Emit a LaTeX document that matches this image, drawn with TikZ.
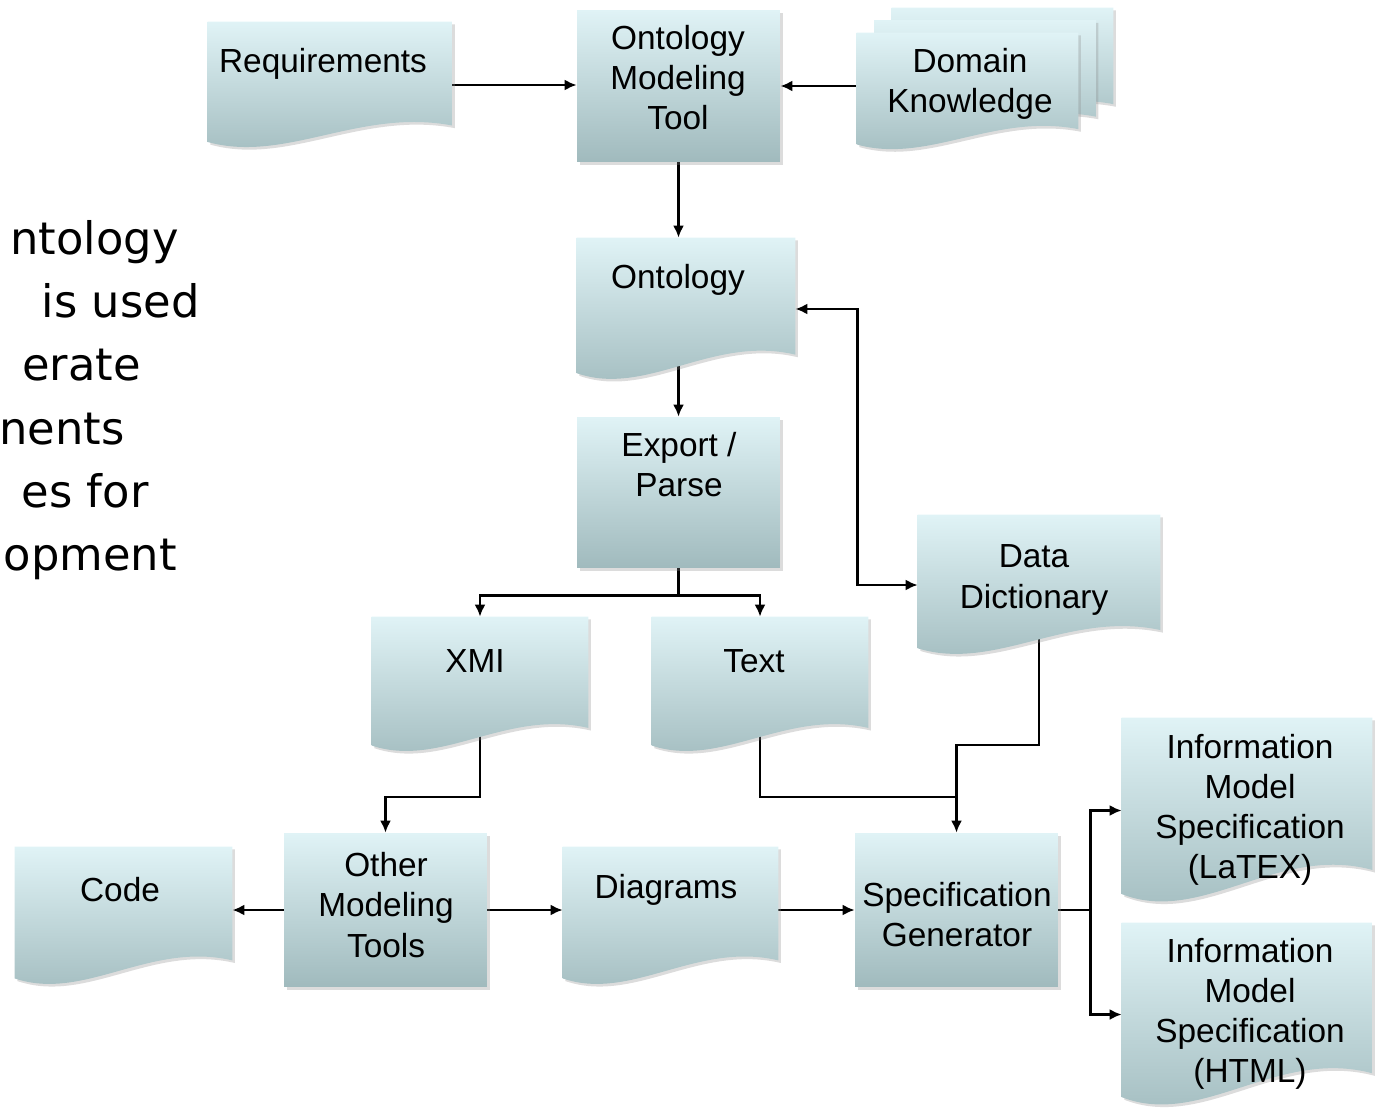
\documentclass[tikz,border=0pt]{standalone}
\usepackage{fontspec}
\setmainfont{Liberation Sans}
\newfontfamily\slidefont{DejaVu Sans}
\usetikzlibrary{calc,shadows,arrows.meta,backgrounds}

\definecolor{boxtop}{RGB}{224,243,246}
\definecolor{boxbottom}{RGB}{160,186,189}

\newcommand{\boxfont}{\fontsize{19}{22.8}\selectfont}

\tikzset{
  shade box/.style={top color=boxtop, bottom color=boxbottom,
    drop shadow={shadow xshift=1.5pt, shadow yshift=-1.5pt, fill=black!45, opacity=0.3}},
  procbox/.style={shade box, rectangle, inner sep=0pt, align=center, font=\boxfont},
  docarea/.style={rectangle, inner sep=0pt},
  boxtext/.style={align=center, font=\boxfont, inner sep=0pt},
  flow/.style={line width=1.4pt, ->},
  plainflow/.style={line width=1.4pt},
}

% Dokumentsymbol mit welliger Unterkante auf dem Rechteck eines Knotens
\newcommand{\docshape}[1]{%
  \path[shade box] let \p1=(#1.north west), \p2=(#1.south east),
      \n1={\x2-\x1}, \n2={\y1-\y2} in
    (\x1,\y1) -- (\x2,\y1) -- (\x2,\y2+0.18*\n2)
    .. controls (\x1+0.62*\n1,\y2+0.32*\n2) and (\x1+0.32*\n1,\y2-0.12*\n2)
    .. (\x1,\y2+0.05*\n2) -- cycle;}

\begin{document}
\begin{tikzpicture}[x=0.02cm, y=-0.02cm, >={Latex[length=2.4mm,width=2.2mm]}]
\useasboundingbox (0,0) rectangle (1375,1108);
\clip (0,0) rectangle (1375,1108);

% abgeschnittener Folientext am linken Rand
\begin{scope}[font=\slidefont\fontsize{25.5}{31}\selectfont, inner sep=0pt, anchor=base east]
\node (line1) at (179,255) {ntology};
\node (line2) at (200,317) {is used};
\node (line3) at (141,380) {erate};
\node (line4) at (125,444) {nents};
\node (line5) at (149,507) {es for};
\node (line6) at (177,570) {opment};
\end{scope}

% obere Reihe
\node[docarea, minimum width=4.88cm, minimum height=2.52cm] (req) at (330,85) {};
\docshape{req}
\node[boxtext] (req text) at (323,64) {Requirements};

\node[procbox, minimum width=4.06cm, minimum height=3.04cm] (omt) at (678.5,86) {};
\node[boxtext] (omt text) at (678,78) {Ontology\\Modeling\\Tool};

\node[docarea, minimum width=4.42cm, minimum height=2.34cm] (dom back) at (1002.5,66.5) {};
\node[docarea, minimum width=4.42cm, minimum height=2.34cm] (dom mid) at (985,79) {};
\node[docarea, minimum width=4.42cm, minimum height=2.34cm] (dom) at (967.5,91.5) {};
\docshape{dom back}
\docshape{dom mid}
\docshape{dom}
\node[boxtext] (dom text) at (970,84) {Domain\\Knowledge};

% mittlere Spalte
\node[docarea, minimum width=4.36cm, minimum height=2.84cm] (onto) at (686,309) {};
\docshape{onto}
\node[boxtext] (onto text) at (678,280) {Ontology};

\node[procbox, minimum width=4.06cm, minimum height=3.02cm] (exp) at (678.5,492.5) {};
\node[boxtext] (exp text) at (679,465) {Export /\\Parse};

\node[docarea, minimum width=4.84cm, minimum height=2.80cm] (dd) at (1039,585) {};
\docshape{dd}
\node[boxtext] (dd text) at (1034,580) {Data\\Dictionary};

\node[docarea, minimum width=4.32cm, minimum height=2.70cm] (xmi) at (480,684.5) {};
\docshape{xmi}
\node[boxtext] (xmi text) at (475,661) {XMI};

\node[docarea, minimum width=4.32cm, minimum height=2.70cm] (txt) at (760,684.5) {};
\docshape{txt}
\node[boxtext] (txt text) at (754,661) {Text};

% untere Reihe
\node[docarea, minimum width=4.34cm, minimum height=2.76cm] (code) at (123.5,916) {};
\docshape{code}
\node[boxtext] (code text) at (120,890) {Code};

\node[procbox, minimum width=4.06cm, minimum height=3.08cm] (oth) at (385.5,910) {};
\node[boxtext] (oth text) at (386,905) {Other\\Modeling\\Tools};

\node[docarea, minimum width=4.30cm, minimum height=2.76cm] (dia) at (670.5,916) {};
\docshape{dia}
\node[boxtext] (dia text) at (666,890) {Diagrams};

\node[procbox, minimum width=4.06cm, minimum height=3.08cm] (spg) at (956.5,910) {};
\node[boxtext] (spg text) at (957,915) {Specification\\Generator};

\node[docarea, minimum width=5.00cm, minimum height=3.70cm] (iml) at (1247,810.5) {};
\docshape{iml}
\node[boxtext] (iml text) at (1250,810) {Information\\Model\\Specification\\(LaTEX)};

\node[docarea, minimum width=5.00cm, minimum height=3.66cm] (imh) at (1247,1014.5) {};
\docshape{imh}
\node[boxtext] (imh text) at (1250,1014) {Information\\Model\\Specification\\(HTML)};

\coordinate (merge) at (956.5,797);
\coordinate (ddturn) at (956.5,745);

% Verbindungen hinter den Kaesten
\begin{scope}[on background layer]
\draw[flow] (req.east) -- (req.east -| omt.west);
\draw[flow] (dom.west |- omt.east) -- (omt.east);
\draw[flow] (omt.south) -- (omt.south |- onto.north);
\draw[flow] (exp.north |- onto.center) -- (exp.north);
\draw[plainflow] (exp.south) -- ++(0,27) coordinate (split);
\draw[flow] (split) -| (xmi.north);
\draw[flow] (split) -| (txt.north);
\draw[flow, <->] (onto.east) -- ++(62,0) |- (dd.west);
\draw[flow] (xmi.center) -- ++(0,112.5) -| (oth.north);
\draw[plainflow] (txt.center) |- (merge);
\draw[flow] (dd.center) |- (ddturn) -- (spg.north);
\draw[flow] (oth.west) -- (code.east |- oth.west);
\draw[flow] (oth.east) -- (dia.west |- oth.east);
\draw[flow] (spg.west -| dia.east) -- (spg.west);
\draw[plainflow] (spg.east) -- ++(32,0) coordinate (fork);
\draw[flow] (fork) |- (iml.west);
\draw[flow] (fork) |- (imh.west);
\end{scope}

\end{tikzpicture}
\end{document}
